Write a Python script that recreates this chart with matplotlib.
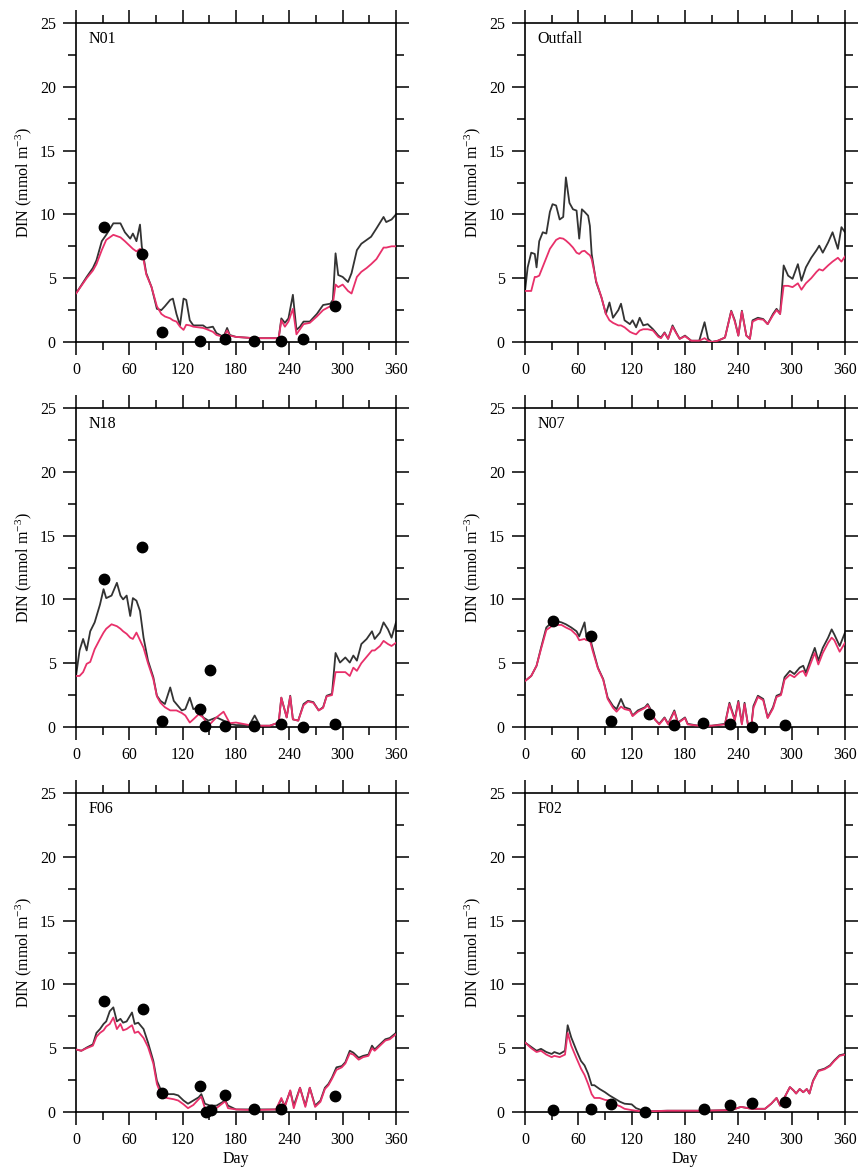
import matplotlib
matplotlib.use("Agg")
import matplotlib.pyplot as plt
from matplotlib.ticker import MultipleLocator

plt.rcParams['font.family'] = ['Liberation Serif', 'DejaVu Serif']
plt.rcParams['mathtext.fontset'] = 'custom'
plt.rcParams['mathtext.rm'] = 'Liberation Serif'
plt.rcParams['mathtext.default'] = 'regular'

# ---- N01 ----
n01_days = [0, 12, 19, 23, 29, 34, 42, 50, 55, 61, 64, 68, 72, 74, 79, 85, 91, 96, 100, 106,
            109, 113, 117, 121, 124, 128, 132, 143, 147, 154, 158, 166, 170, 173, 180, 200, 220, 228, 231, 235,
            239, 244, 248, 252, 256, 263, 271, 278, 286, 289, 292, 295, 300, 306, 310, 316, 321, 327, 332, 338,
            346, 349, 355, 360]
n01_black = [3.8, 5.1, 5.8, 6.4, 7.9, 8.4, 9.3, 9.3, 8.6, 8.1, 8.5, 7.9, 9.2, 7.5, 5.4, 4.3, 2.6, 2.5, 2.8, 3.3,
             3.4, 2.2, 1.3, 3.4, 3.3, 1.7, 1.3, 1.3, 1.1, 1.2, 0.7, 0.4, 1.1, 0.55, 0.4, 0.3, 0.3, 0.3, 1.85, 1.5,
             1.85, 3.7, 0.95, 1.2, 1.6, 1.6, 2.2, 2.9, 3.0, 3.3, 6.95, 5.25, 5.1, 4.7, 5.4, 7.2, 7.7, 8.0, 8.25, 8.9,
             9.8, 9.4, 9.6, 10.0]
n01_pink = [3.8, 5.0, 5.6, 6.1, 7.2, 8.0, 8.4, 8.2, 7.9, 7.5, 7.3, 7.1, 7.3, 7.2, 5.3, 4.3, 2.8, 2.2, 2.0, 1.85,
            1.7, 1.6, 1.2, 0.95, 1.35, 1.3, 1.2, 1.1, 1.0, 0.8, 0.55, 0.4, 0.9, 0.5, 0.4, 0.3, 0.3, 0.3, 1.7, 1.2,
            1.6, 2.6, 0.6, 1.0, 1.4, 1.5, 2.0, 2.5, 2.8, 3.0, 4.5, 4.3, 4.5, 4.0, 3.8, 5.1, 5.5, 5.8, 6.1, 6.5,
            7.4, 7.4, 7.5, 7.5]
n01_obs_days = [32, 74, 97, 140, 168, 200, 231, 255, 291]
n01_obs = [9.0, 6.9, 0.75, 0.05, 0.2, 0.1, 0.1, 0.2, 2.8]

# ---- Outfall ----
out_days = [0, 3, 7, 11, 13, 16, 20, 24, 28, 31, 35, 39, 43, 46, 50, 54, 58, 61, 64, 67,
            71, 73, 75, 80, 86, 91, 95, 99, 105, 108, 112, 118, 121, 125, 129, 133, 138, 144, 150, 153,
            157, 161, 166, 170, 174, 180, 187, 196, 202, 206, 210, 217, 225, 232, 236, 240, 244, 249, 253, 256,
            262, 268, 273, 279, 283, 287, 291, 296, 301, 307, 311, 316, 322, 328, 331, 335, 341, 346, 352, 356,
            360]
out_black = [4.0, 5.85, 7.0, 6.9, 5.85, 7.9, 8.6, 8.5, 10.2, 10.8, 10.7, 9.6, 9.8, 12.9, 10.9, 10.4, 10.3, 8.1, 10.4, 10.2,
             9.9, 9.1, 6.9, 4.7, 3.5, 2.2, 3.1, 1.9, 2.5, 3.0, 1.7, 1.4, 1.7, 1.15, 1.9, 1.3, 1.4, 1.0, 0.5, 0.35,
             0.75, 0.25, 1.3, 0.75, 0.25, 0.5, 0.1, 0.1, 1.55, 0.25, 0.0, 0.1, 0.35, 2.45, 1.7, 0.5, 2.45, 0.5, 0.25, 1.7,
             1.9, 1.8, 1.4, 2.2, 2.6, 2.2, 6.0, 5.2, 4.95, 6.1, 4.8, 5.85, 6.6, 7.2, 7.55, 7.0, 7.8, 8.6, 7.3, 9.0,
             8.6]
out_pink = [4.0, 4.0, 4.0, 5.1, 5.1, 5.2, 5.9, 6.6, 7.3, 7.6, 8.0, 8.15, 8.1, 7.95, 7.7, 7.4, 7.0, 6.9, 7.1, 7.15,
            6.9, 6.8, 6.5, 4.8, 3.5, 2.2, 1.7, 1.5, 1.3, 1.3, 1.15, 0.8, 0.7, 0.6, 0.9, 1.0, 1.0, 0.9, 0.4, 0.3,
            0.7, 0.25, 1.2, 0.7, 0.25, 0.45, 0.1, 0.1, 0.3, 0.1, 0.0, 0.1, 0.35, 2.4, 1.6, 0.5, 2.4, 0.5, 0.25, 1.6,
            1.8, 1.75, 1.4, 2.1, 2.5, 2.2, 4.4, 4.4, 4.3, 4.6, 4.1, 4.6, 5.0, 5.5, 5.7, 5.6, 6.0, 6.3, 6.6, 6.3,
            6.7]

# ---- N18 ----
n18_days = [0, 4, 8, 12, 16, 21, 27, 31, 34, 40, 46, 50, 53, 57, 61, 64, 68, 72, 76, 81,
            87, 91, 95, 100, 106, 110, 113, 119, 123, 128, 132, 138, 143, 149, 158, 166, 173, 180, 195, 201,
            207, 218, 228, 231, 237, 241, 244, 250, 256, 261, 267, 273, 278, 282, 288, 292, 297, 303, 308, 312,
            316, 321, 327, 333, 336, 342, 346, 351, 355, 360]
n18_black = [4.0, 6.0, 6.9, 6.0, 7.5, 8.2, 9.6, 10.8, 10.1, 10.3, 11.3, 10.3, 10.0, 10.3, 8.7, 10.1, 9.9, 9.1, 7.0, 5.2,
             3.9, 2.45, 2.05, 1.8, 3.1, 2.05, 1.8, 1.3, 1.4, 2.3, 1.4, 1.55, 0.75, 0.5, 0.75, 0.5, 0.25, 0.15, 0.15, 0.9,
             0.1, 0.1, 0.35, 2.3, 0.75, 2.45, 0.6, 0.5, 1.8, 2.05, 1.95, 1.3, 1.55, 2.45, 2.6, 5.8, 5.05, 5.45, 5.05, 5.6,
             5.2, 6.5, 6.9, 7.5, 6.9, 7.4, 8.2, 7.65, 7.0, 8.2]
n18_pink = [4.0, 4.0, 4.3, 4.95, 5.1, 6.1, 6.9, 7.4, 7.7, 8.05, 7.9, 7.7, 7.5, 7.3, 7.0, 6.9, 7.4, 6.8, 6.2, 5.0,
            3.75, 2.4, 1.9, 1.55, 1.3, 1.3, 1.3, 1.1, 0.9, 0.35, 0.6, 1.0, 0.75, 0.1, 0.75, 1.2, 0.3, 0.35, 0.15, 0.15,
            0.1, 0.1, 0.35, 2.3, 0.75, 2.4, 0.6, 0.5, 1.7, 2.0, 1.9, 1.3, 1.5, 2.4, 2.5, 4.3, 4.3, 4.3, 4.0, 4.65,
            4.4, 5.0, 5.5, 6.0, 6.0, 6.35, 6.75, 6.5, 6.35, 6.6]
n18_obs_days = [32, 74, 97, 140, 145, 151, 168, 200, 231, 255, 291]
n18_obs = [11.6, 14.1, 0.5, 1.4, 0.1, 4.5, 0.05, 0.1, 0.2, 0.0, 0.2]

# ---- N07 ----
n07_days = [0, 7, 13, 18, 24, 30, 35, 41, 46, 52, 58, 61, 67, 69, 73, 76, 82, 88, 93, 99,
            103, 108, 112, 118, 121, 127, 135, 138, 142, 146, 151, 157, 161, 168, 172, 180, 183, 195, 210, 225,
            230, 236, 240, 244, 247, 251, 255, 257, 262, 268, 273, 279, 283, 288, 292, 298, 303, 309, 313, 316,
            322, 326, 330, 335, 341, 345, 348, 354, 360]
n07_black = [3.6, 4.0, 4.8, 6.2, 7.8, 8.2, 8.3, 8.2, 8.05, 7.8, 7.5, 7.1, 8.2, 7.1, 7.0, 6.2, 4.65, 3.75, 2.3, 1.65,
             1.4, 2.2, 1.55, 1.4, 0.9, 1.3, 1.55, 1.8, 1.3, 0.6, 0.25, 0.75, 0.25, 1.3, 0.35, 0.75, 0.25, 0.1, 0.1, 0.25,
             1.9, 0.6, 2.05, 0.25, 1.9, 0.1, 0.35, 1.65, 2.45, 2.2, 0.75, 1.55, 2.45, 2.6, 3.9, 4.4, 4.15, 4.65, 4.8, 4.25,
             5.45, 6.2, 5.2, 6.2, 7.0, 7.65, 7.25, 6.35, 7.4]
n07_pink = [3.6, 4.0, 4.8, 6.1, 7.6, 7.9, 8.0, 8.0, 7.8, 7.6, 7.2, 6.8, 6.9, 6.8, 6.8, 6.0, 4.6, 3.7, 2.2, 1.5,
            1.2, 1.6, 1.4, 1.3, 0.85, 1.2, 1.5, 1.7, 1.2, 0.6, 0.2, 0.7, 0.2, 1.2, 0.3, 0.7, 0.2, 0.1, 0.1, 0.2,
            1.8, 0.5, 1.95, 0.2, 1.8, 0.1, 0.3, 1.5, 2.35, 2.1, 0.7, 1.45, 2.35, 2.5, 3.7, 4.1, 3.9, 4.3, 4.4, 4.0,
            5.1, 5.8, 4.9, 5.8, 6.6, 7.0, 6.8, 5.9, 6.6]
n07_obs_days = [32, 74, 97, 140, 168, 200, 231, 255, 292]
n07_obs = [8.33, 7.1, 0.44, 1.04, 0.18, 0.3, 0.2, 0.0, 0.13]

# ---- F06 ----
f06_days = [0, 6, 12, 19, 23, 27, 31, 34, 38, 42, 46, 50, 53, 57, 63, 66, 70, 76, 81, 87,
            91, 96, 102, 110, 115, 121, 126, 132, 138, 141, 145, 151, 158, 168, 171, 180, 200, 225, 231, 235,
            241, 245, 252, 258, 263, 269, 275, 280, 284, 288, 293, 299, 303, 308, 312, 318, 323, 329, 333, 336,
            342, 348, 353, 360]
f06_black = [4.9, 4.8, 5.05, 5.3, 6.2, 6.5, 6.9, 7.1, 7.9, 8.2, 7.1, 7.3, 7.0, 7.1, 7.8, 6.9, 7.0, 6.5, 5.45, 4.0,
             2.45, 1.65, 1.4, 1.4, 1.3, 0.9, 0.65, 0.9, 1.15, 1.4, 0.65, 0.5, 0.5, 0.9, 0.5, 0.2, 0.2, 0.2, 1.0, 0.5,
             1.65, 0.5, 1.9, 0.5, 1.9, 0.5, 0.9, 1.9, 2.2, 2.7, 3.5, 3.6, 3.9, 4.8, 4.65, 4.25, 4.4, 4.5, 5.2, 4.9,
             5.3, 5.7, 5.8, 6.2]
f06_pink = [4.9, 4.8, 5.0, 5.2, 5.9, 6.2, 6.4, 6.7, 6.9, 7.4, 6.5, 6.9, 6.4, 6.5, 6.8, 6.2, 6.3, 5.8, 5.1, 3.8,
            2.2, 1.3, 1.1, 1.0, 0.9, 0.6, 0.3, 0.55, 1.0, 1.2, 0.3, 0.3, 0.3, 0.85, 0.3, 0.2, 0.15, 0.2, 1.1, 0.4,
            1.7, 0.3, 1.9, 0.4, 1.9, 0.4, 0.8, 1.8, 2.1, 2.6, 3.3, 3.5, 3.8, 4.6, 4.5, 4.1, 4.3, 4.4, 5.0, 4.8,
            5.2, 5.6, 5.7, 6.1]
f06_obs_days = [32, 75, 97, 140, 146, 152, 168, 200, 231, 291]
f06_obs = [8.7, 8.08, 1.48, 2.0, 0.0, 0.18, 1.35, 0.23, 0.23, 1.22]

# ---- F02 ----
f02_days = [0, 7, 13, 18, 24, 30, 33, 39, 45, 48, 52, 58, 63, 67, 71, 75, 78, 84, 90, 95,
            101, 107, 112, 120, 125, 131, 137, 160, 200, 232, 243, 255, 270, 277, 283, 287, 292, 298, 302, 305,
            309, 313, 317, 320, 324, 330, 337, 343, 348, 354, 360]
f02_black = [5.45, 5.1, 4.8, 4.95, 4.7, 4.55, 4.7, 4.55, 4.8, 6.8, 5.85, 4.8, 4.0, 3.65, 3.0, 2.1, 2.1, 1.8, 1.55, 1.3,
             1.05, 0.8, 0.65, 0.6, 0.3, 0.15, 0.05, 0.1, 0.1, 0.15, 0.4, 0.25, 0.25, 0.65, 1.1, 0.5, 1.15, 1.95, 1.7, 1.45,
             1.8, 1.55, 1.8, 1.45, 2.45, 3.25, 3.4, 3.65, 4.05, 4.45, 4.55]
f02_pink = [5.45, 5.0, 4.7, 4.8, 4.5, 4.3, 4.4, 4.3, 4.5, 6.2, 5.2, 4.2, 3.4, 2.9, 2.2, 1.4, 1.1, 1.1, 0.95, 0.9,
            0.6, 0.45, 0.25, 0.15, 0.1, 0.05, 0.05, 0.1, 0.1, 0.15, 0.4, 0.25, 0.25, 0.65, 1.1, 0.5, 1.15, 1.95, 1.7, 1.45,
            1.8, 1.55, 1.8, 1.45, 2.4, 3.2, 3.35, 3.6, 4.0, 4.4, 4.5]
f02_obs_days = [32, 74, 97, 135, 201, 231, 255, 292]
f02_obs = [0.13, 0.26, 0.65, 0.0, 0.23, 0.52, 0.7, 0.78]

panels = [
    ("N01", n01_days, n01_black, n01_pink, n01_obs_days, n01_obs),
    ("Outfall", out_days, out_black, out_pink, [], []),
    ("N18", n18_days, n18_black, n18_pink, n18_obs_days, n18_obs),
    ("N07", n07_days, n07_black, n07_pink, n07_obs_days, n07_obs),
    ("F06", f06_days, f06_black, f06_pink, f06_obs_days, f06_obs),
    ("F02", f02_days, f02_black, f02_pink, f02_obs_days, f02_obs),
]

fig = plt.figure(figsize=(8.58, 11.7), dpi=100)

W, H = 858.0, 1170.0
lefts = [76, 525]
bottoms = [342, 727, 1112]
aw, ah = 320, 319

for i, (name, d, blk, pnk, od, ov) in enumerate(panels):
    row, col = divmod(i, 2)
    ax = fig.add_axes([lefts[col] / W, 1 - bottoms[row] / H, aw / W, ah / H])
    ax.plot(d, blk, color='#333333', lw=1.3, zorder=2)
    ax.plot(d, pnk, color='#e8306a', lw=1.3, zorder=3)
    if od:
        ax.plot(od, ov, 'o', color='black', ms=7.5, zorder=4, clip_on=False)

    ax.set_xlim(0, 360)
    ax.set_ylim(0, 25)
    ax.xaxis.set_major_locator(MultipleLocator(60))
    ax.xaxis.set_minor_locator(MultipleLocator(30))
    ax.yaxis.set_major_locator(MultipleLocator(5))
    ax.yaxis.set_minor_locator(MultipleLocator(2.5))
    ax.tick_params(which='both', direction='out', top=True, right=True,
                   labelsize=11.5, width=1.1, pad=5)
    ax.tick_params(which='major', length=9.5)
    ax.tick_params(which='minor', length=5.5)
    for s in ax.spines.values():
        s.set_linewidth(1.2)

    ax.set_ylabel("DIN (mmol m$^{-3}$)", fontsize=11.5, labelpad=4)
    if row == 2:
        ax.set_xlabel("Day", fontsize=11.5, labelpad=2)
    ax.text(0.04, 0.975, name, transform=ax.transAxes, fontsize=11.5,
            ha='left', va='top')

fig.savefig("out.png", dpi=100)
